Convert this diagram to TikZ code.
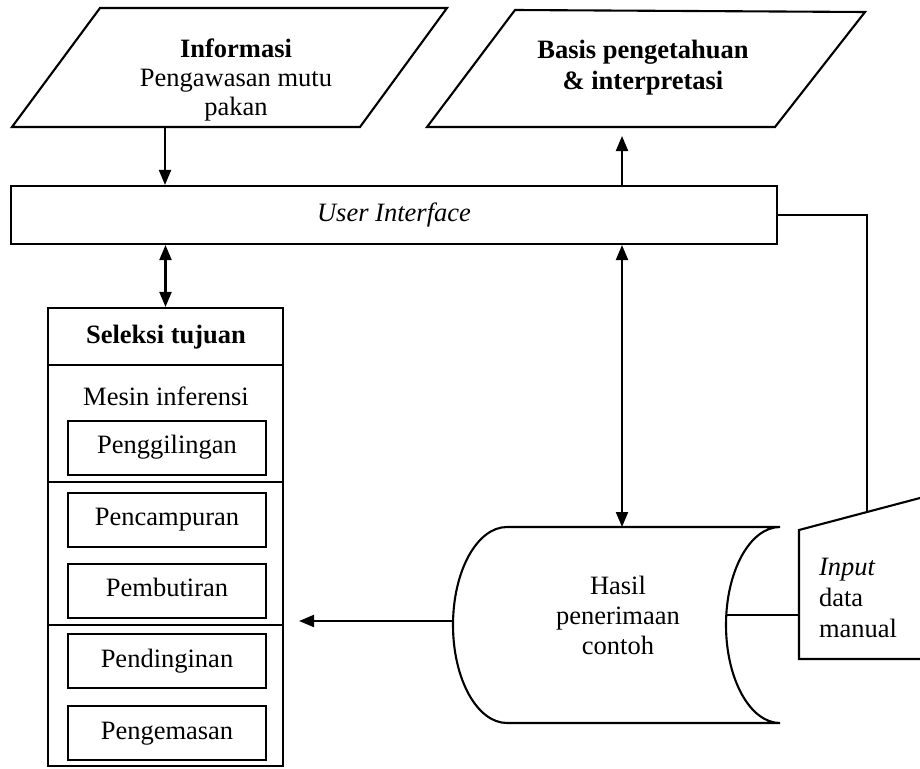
\documentclass[tikz,border=0pt]{standalone}
\usepackage{fontspec}
\setmainfont{Liberation Serif}
\usetikzlibrary{arrows.meta}
\begin{document}
\begin{tikzpicture}[x=1pt,y=-1pt, line width=2.1pt,
  every node/.style={font=\fontsize{26.5}{29}\selectfont, inner sep=0pt},
  arr/.style={-{Triangle[length=15pt,width=12pt]}},
  darr/.style={{Triangle[length=15pt,width=12pt]}-{Triangle[length=15pt,width=12pt]}},
  one/.style={text height=18pt, text depth=5.8pt},
  procbox/.style={draw, line width=2pt, minimum width=198pt, minimum height=54pt, one},
  lbl/.style={align=center}]
\useasboundingbox (0,0) rectangle (920,768);

% top data parallelograms
\draw (100,8) -- (447,8) -- (360,127) -- (12,127) -- cycle;
\node[lbl] (info) at (236,80) {\textbf{Informasi}\\Pengawasan mutu\\pakan};
\coordinate (infoB) at (165,127);

\draw (515,10) -- (865,12) -- (775,127) -- (427,127) -- cycle;
\node[lbl, font=\fontsize{26.5}{31}\selectfont\bfseries] (basis) at (643,67.5) {Basis pengetahuan\\\& interpretasi};
\coordinate (basisB) at (622,127);

% user interface
\node[draw, minimum width=766pt, minimum height=58pt, font=\fontsize{26.5}{29}\selectfont\itshape] (ui) at (394,215) {User Interface};

% goal selection / inference engine
\node[draw, minimum width=235pt, minimum height=458pt] (sel) at (165.5,537) {};
\draw (48,365) -- (283,365);
\draw (48,482) -- (283,482);
\draw (48,625) -- (283,625);
\node[one, font=\fontsize{26.5}{29}\selectfont\bfseries] (seltitle) at (166,337) {Seleksi tujuan};
\node[one] (mesin) at (166,399) {Mesin inferensi};
\node[procbox] (p1) at (167,447.5) {Penggilingan};
\node[procbox] (p2) at (167,519.5) {Pencampuran};
\node[procbox] (p3) at (167,590.5) {Pembutiran};
\node[procbox] (p4) at (167,661) {Pendinginan};
\node[procbox] (p5) at (167,733) {Pengemasan};

% stored data (cylinder)
\draw (507,527) -- (780,527) arc[start angle=90, end angle=270, x radius=54pt, y radius=98pt]
  -- (507,723) arc[start angle=270, end angle=90, x radius=54pt, y radius=98pt] -- cycle;
\node[lbl, font=\fontsize{26.5}{30}\selectfont] (hasil) at (618,615) {Hasil\\penerimaan\\contoh};
\coordinate (cylTop) at (622,527);
\coordinate (cylL) at (453,621);
\coordinate (cylR) at (726,615);

% manual input
\draw (799,530) -- (940,492.7) -- (940,659) -- (799,659) -- cycle;
\node[align=left, anchor=north west, font=\fontsize{26.5}{31}\selectfont] (inp) at (818,557) {\textit{Input}\\data\\manual};
\coordinate (inpL) at (799,615);
\coordinate (inpT) at (867,512);

% connectors
\draw[arr] (infoB) -- (ui.north -| infoB);
\draw[arr, shorten >=9pt] (ui.north -| basisB) -- (basisB);
\draw[darr] (ui.south -| sel.north) -- (sel.north);
\draw[darr] (ui.south -| cylTop) -- (cylTop);
\draw (ui.east) -| (inpT);
\draw (cylR) -- (inpL);
\draw[arr, shorten >=15pt] (cylL) -- (sel.east |- cylL);
\end{tikzpicture}
\end{document}
